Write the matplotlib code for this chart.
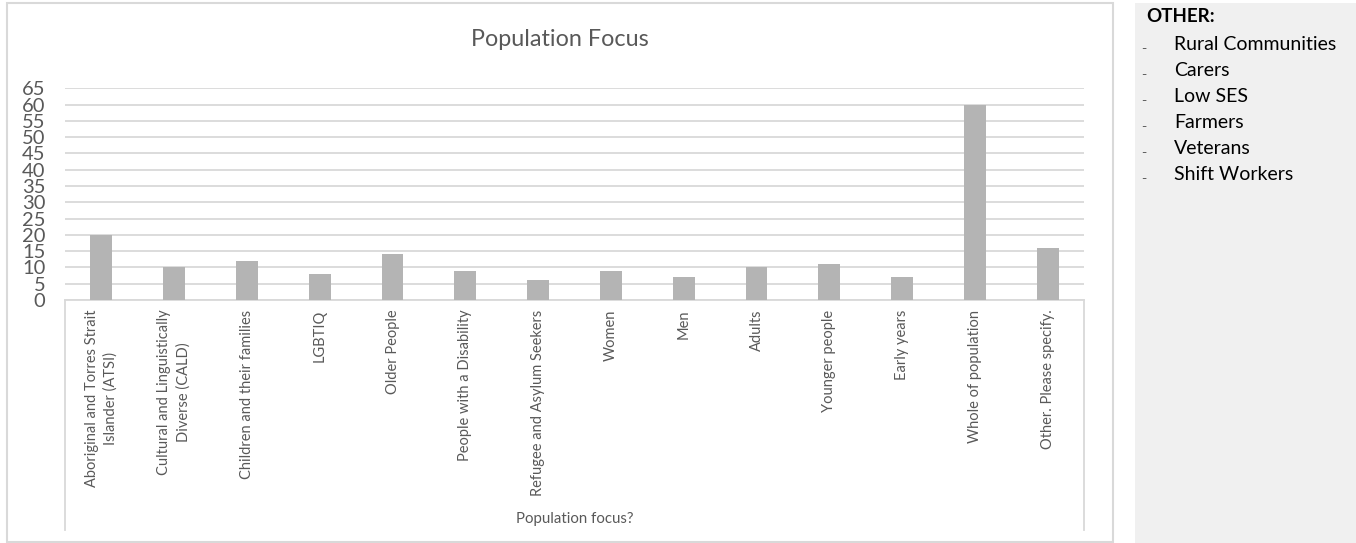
import matplotlib
matplotlib.use("Agg")
import matplotlib.pyplot as plt
from matplotlib.lines import Line2D
from matplotlib.patches import Rectangle

# data
categories = [
    "Aboriginal and Torres Strait\nIslander (ATSI)",
    "Cultural and Linguistically\nDiverse (CALD)",
    "Children and their families",
    "LGBTIQ",
    "Older People",
    "People with a Disability",
    "Refugee and Asylum Seekers",
    "Women",
    "Men",
    "Adults",
    "Younger people",
    "Early years",
    "Whole of population",
    "Other. Please specify.",
]
counts = [20, 10, 12, 8, 14, 9, 6, 9, 7, 10, 11, 7, 60, 16]
y_ticks = list(range(0, 66, 5))
other_items = ["Rural Communities", "Carers", "Low SES", "Farmers", "Veterans", "Shift Workers"]

W, H = 1356, 543
plt.rcParams['font.family'] = ['Lato', 'DejaVu Sans']
text_col = "#595959"
line_col = "#d9d9d9"

fig = plt.figure(figsize=(W / 100, H / 100), dpi=100)

def fx(px):
    return px / W

def fy(py):
    return 1 - py / H

# chart outer border
fig.add_artist(Rectangle((fx(7), fy(542)), fx(1113) - fx(7), fy(3) - fy(542),
                         transform=fig.transFigure, fill=False, edgecolor=line_col, lw=1.5))

# right side text panel
fig.add_artist(Rectangle((fx(1135), 0), 1 - fx(1135), fy(3),
                         transform=fig.transFigure, facecolor="#f0f0f0", edgecolor="none"))

ax = fig.add_axes([fx(65), fy(300), fx(1084) - fx(65), fy(88.3) - fy(300)])
x = list(range(len(categories)))
ax.bar(x, counts, width=0.3, color="#b4b4b4", zorder=3)
ax.set_xlim(-0.5, len(categories) - 0.5)
ax.set_ylim(0, 65)
ax.set_yticks(y_ticks)
ax.set_yticklabels([str(v) for v in y_ticks], fontsize=14.5, color=text_col)
ax.set_xticks(x)
ax.set_xticklabels(categories, rotation=90, fontsize=10.5, color=text_col, va="top", ha="center",
                   linespacing=1.45)
ax.tick_params(axis="y", length=0, pad=14)
ax.tick_params(axis="x", length=0, pad=7)
ax.grid(axis="y", color=line_col, lw=1.3, zorder=0)
for side in ["top", "right", "left"]:
    ax.spines[side].set_visible(False)
ax.spines["bottom"].set_color(line_col)
ax.spines["bottom"].set_linewidth(1.3)

# category axis box lines
for px in (65, 1084):
    fig.add_artist(Line2D([fx(px), fx(px)], [fy(300), fy(530)], transform=fig.transFigure,
                          color=line_col, lw=1.3))

fig.text(fx(560), fy(40), "Population Focus", fontsize=16.8, color=text_col, ha="center", va="center")
fig.text(fx(575), fy(519), "Population focus?", fontsize=10.8, color=text_col, ha="center", va="center")

# OTHER panel
fig.text(fx(1146), fy(17), "OTHER:", fontsize=13.5, fontweight="bold", color="black", ha="left", va="center")
for i, item in enumerate(other_items):
    yy = 44 + i * 26
    fig.text(fx(1141), fy(yy + 5), "\u2013", fontsize=6.5, color="#333333", ha="left", va="center")
    fig.text(fx(1174), fy(yy), item, fontsize=14, color="black", ha="left", va="center")

fig.savefig("out.png", dpi=100)
